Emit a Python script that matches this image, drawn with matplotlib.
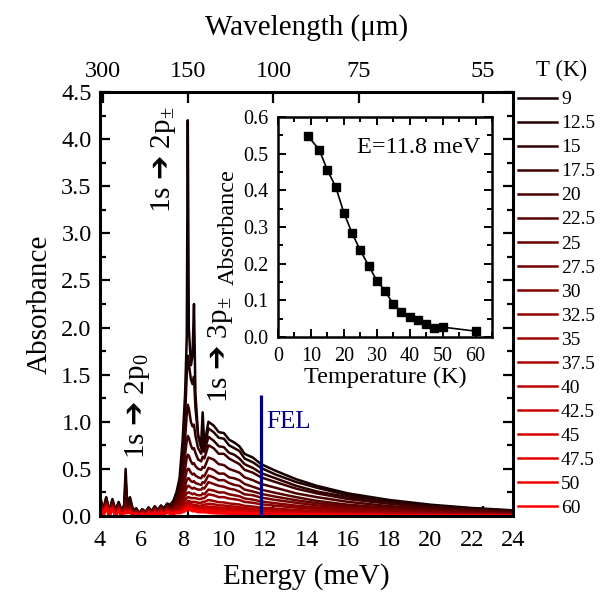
import numpy as np
import matplotlib
matplotlib.use("Agg")
import matplotlib.pyplot as plt
from matplotlib.ticker import MultipleLocator, FixedLocator

plt.rcParams['font.family'] = 'Liberation Serif'
plt.rcParams['mathtext.fontset'] = 'custom'
plt.rcParams['mathtext.rm'] = 'Liberation Serif'
plt.rcParams['mathtext.it'] = 'Liberation Serif:italic'
plt.rcParams['mathtext.bf'] = 'Liberation Serif:bold'
plt.rcParams['mathtext.sf'] = 'DejaVu Sans'

# temperatures (K) of the spectra
temps = ['9', '12.5', '15', '17.5', '20', '22.5', '25', '27.5', '30',
         '32.5', '35', '37.5', '40', '42.5', '45', '47.5', '50', '60']

# photon energy grid (meV)
energy = [4.0, 4.15, 4.3, 4.45, 4.6, 4.75, 4.9, 5.05, 5.17, 5.24, 5.31, 5.45, 5.6,
          5.75, 5.9, 6.05, 6.2, 6.35, 6.5, 6.65, 6.8, 6.95, 7.1, 7.25, 7.4,
          7.55, 7.7, 7.85, 8.0, 8.12, 8.2, 8.25, 8.3, 8.4, 8.48, 8.55, 8.62,
          8.75, 8.9, 8.97, 9.05, 9.25,
          9.5, 9.75, 10.0, 10.25, 10.5, 10.75, 11.0, 11.4, 11.8, 12.5, 13.5,
          14.5, 16, 18, 20, 22, 24]

# absorbance, one row per temperature
absorb = [
    [0.22, 0.06, 0.2, 0.05, 0.18, 0.06, 0.15, 0.05, 0.12, 0.5, 0.15, 0.2, 0.06, 0.08, 0.03, 0.07, 0.04, 0.09, 0.05, 0.1, 0.06, 0.11, 0.08, 0.13, 0.12,
     0.16, 0.25, 0.4, 0.8, 1.3, 1.9, 4.2, 2.0, 1.6, 1.7, 2.25, 1.3, 0.85, 0.78, 1.1, 0.75, 1.0,
     0.96, 0.89, 0.88, 0.81, 0.78, 0.74, 0.66, 0.62, 0.55, 0.48, 0.39, 0.32, 0.24, 0.17, 0.12, 0.085, 0.06],
    [0.2, 0.05, 0.19, 0.05, 0.17, 0.05, 0.14, 0.05, 0.11, 0.38, 0.13, 0.18, 0.05, 0.08, 0.03, 0.07, 0.04, 0.09, 0.05, 0.1, 0.06, 0.11, 0.08, 0.13, 0.12,
     0.15, 0.22, 0.35, 0.62, 1.05, 1.5, 1.7, 1.62, 1.45, 1.4, 1.48, 1.15, 0.85, 0.72, 0.85, 0.72, 0.93,
     0.89, 0.83, 0.82, 0.75, 0.72, 0.69, 0.61, 0.57, 0.51, 0.44, 0.36, 0.3, 0.22, 0.16, 0.11, 0.08, 0.056],
    [0.19, 0.05, 0.18, 0.04, 0.16, 0.05, 0.13, 0.05, 0.1, 0.28, 0.12, 0.16, 0.05, 0.07, 0.03, 0.07, 0.04, 0.08, 0.05, 0.1, 0.06, 0.1, 0.07, 0.12, 0.11,
     0.13, 0.2, 0.3, 0.5, 0.82, 1.08, 1.18, 1.14, 1.0, 0.95, 0.97, 0.85, 0.72, 0.66, 0.74, 0.68, 0.84,
     0.8, 0.74, 0.73, 0.67, 0.65, 0.61, 0.55, 0.51, 0.455, 0.4, 0.32, 0.26, 0.2, 0.14, 0.1, 0.07, 0.05],
    [0.18, 0.04, 0.17, 0.04, 0.15, 0.04, 0.12, 0.04, 0.1, 0.22, 0.11, 0.14, 0.04, 0.07, 0.02, 0.06, 0.03, 0.08, 0.04, 0.09, 0.05, 0.1, 0.07, 0.11, 0.1,
     0.12, 0.18, 0.27, 0.42, 0.65, 0.8, 0.85, 0.83, 0.75, 0.71, 0.72, 0.67, 0.6, 0.58, 0.63, 0.61, 0.75,
     0.72, 0.66, 0.66, 0.61, 0.58, 0.55, 0.49, 0.46, 0.41, 0.36, 0.29, 0.24, 0.18, 0.13, 0.09, 0.064, 0.045],
    [0.17, 0.04, 0.16, 0.04, 0.14, 0.04, 0.12, 0.04, 0.09, 0.17, 0.1, 0.12, 0.04, 0.06, 0.02, 0.06, 0.03, 0.08, 0.04, 0.09, 0.05, 0.09, 0.06, 0.1, 0.09,
     0.11, 0.16, 0.23, 0.35, 0.5, 0.62, 0.65, 0.64, 0.58, 0.55, 0.56, 0.53, 0.5, 0.49, 0.52, 0.51, 0.62,
     0.6, 0.55, 0.54, 0.5, 0.48, 0.46, 0.41, 0.38, 0.34, 0.3, 0.24, 0.2, 0.15, 0.105, 0.075, 0.053, 0.037],
    [0.16, 0.04, 0.15, 0.03, 0.13, 0.04, 0.11, 0.04, 0.09, 0.14, 0.09, 0.11, 0.04, 0.06, 0.02, 0.06, 0.03, 0.07, 0.04, 0.08, 0.05, 0.09, 0.06, 0.09, 0.08,
     0.1, 0.14, 0.2, 0.28, 0.4, 0.48, 0.5, 0.5, 0.46, 0.44, 0.45, 0.43, 0.41, 0.4, 0.43, 0.42, 0.51,
     0.49, 0.45, 0.45, 0.41, 0.4, 0.38, 0.34, 0.31, 0.28, 0.245, 0.2, 0.16, 0.12, 0.087, 0.062, 0.043, 0.031],
    [0.15, 0.03, 0.14, 0.03, 0.12, 0.03, 0.1, 0.03, 0.08, 0.12, 0.08, 0.1, 0.03, 0.05, 0.02, 0.05, 0.02, 0.07, 0.03, 0.08, 0.04, 0.08, 0.05, 0.09, 0.07,
     0.09, 0.12, 0.17, 0.23, 0.32, 0.38, 0.4, 0.4, 0.37, 0.36, 0.37, 0.35, 0.34, 0.33, 0.36, 0.35, 0.43,
     0.41, 0.38, 0.38, 0.35, 0.33, 0.32, 0.28, 0.26, 0.235, 0.205, 0.167, 0.136, 0.103, 0.073, 0.052, 0.036, 0.026],
    [0.14, 0.03, 0.13, 0.03, 0.12, 0.03, 0.1, 0.03, 0.08, 0.1, 0.08, 0.09, 0.03, 0.05, 0.02, 0.05, 0.02, 0.06, 0.03, 0.07, 0.04, 0.08, 0.05, 0.08, 0.07,
     0.08, 0.11, 0.14, 0.19, 0.26, 0.3, 0.32, 0.32, 0.3, 0.29, 0.3, 0.29, 0.28, 0.28, 0.3, 0.29, 0.36,
     0.34, 0.32, 0.31, 0.29, 0.28, 0.26, 0.23, 0.22, 0.195, 0.17, 0.14, 0.113, 0.086, 0.06, 0.043, 0.03, 0.021],
    [0.14, 0.03, 0.13, 0.02, 0.11, 0.03, 0.09, 0.03, 0.07, 0.09, 0.07, 0.08, 0.03, 0.05, 0.01, 0.05, 0.02, 0.06, 0.03, 0.07, 0.03, 0.07, 0.04, 0.08, 0.06,
     0.07, 0.09, 0.12, 0.16, 0.21, 0.24, 0.25, 0.25, 0.24, 0.23, 0.24, 0.23, 0.22, 0.22, 0.24, 0.23, 0.28,
     0.27, 0.25, 0.25, 0.23, 0.22, 0.21, 0.186, 0.174, 0.155, 0.135, 0.11, 0.09, 0.068, 0.048, 0.034, 0.024, 0.017],
    [0.13, 0.02, 0.12, 0.02, 0.11, 0.02, 0.09, 0.02, 0.07, 0.08, 0.07, 0.08, 0.02, 0.04, 0.01, 0.04, 0.02, 0.06, 0.02, 0.06, 0.03, 0.07, 0.04, 0.07, 0.06,
     0.07, 0.08, 0.1, 0.13, 0.17, 0.19, 0.2, 0.2, 0.19, 0.19, 0.19, 0.19, 0.18, 0.18, 0.19, 0.19, 0.23,
     0.22, 0.2, 0.2, 0.185, 0.178, 0.169, 0.15, 0.14, 0.125, 0.109, 0.089, 0.073, 0.055, 0.039, 0.028, 0.019, 0.014],
    [0.13, 0.02, 0.12, 0.02, 0.1, 0.02, 0.08, 0.02, 0.06, 0.07, 0.06, 0.07, 0.02, 0.04, 0.01, 0.04, 0.01, 0.05, 0.02, 0.06, 0.03, 0.06, 0.03, 0.07, 0.05,
     0.06, 0.07, 0.08, 0.1, 0.13, 0.15, 0.16, 0.16, 0.15, 0.15, 0.15, 0.15, 0.14, 0.14, 0.15, 0.15, 0.17,
     0.16, 0.146, 0.144, 0.133, 0.128, 0.122, 0.108, 0.1, 0.09, 0.078, 0.064, 0.052, 0.04, 0.028, 0.02, 0.014, 0.01],
    [0.12, 0.02, 0.11, 0.02, 0.1, 0.02, 0.08, 0.02, 0.06, 0.06, 0.06, 0.06, 0.02, 0.04, 0.01, 0.04, 0.01, 0.05, 0.02, 0.05, 0.02, 0.06, 0.03, 0.06, 0.05,
     0.05, 0.06, 0.07, 0.09, 0.11, 0.13, 0.14, 0.14, 0.13, 0.12, 0.12, 0.12, 0.11, 0.11, 0.12, 0.12, 0.13,
     0.125, 0.113, 0.112, 0.104, 0.1, 0.095, 0.084, 0.078, 0.07, 0.061, 0.05, 0.041, 0.031, 0.022, 0.015, 0.011, 0.008],
    [0.12, 0.01, 0.11, 0.01, 0.09, 0.01, 0.07, 0.01, 0.05, 0.06, 0.05, 0.06, 0.01, 0.03, 0.0, 0.03, 0.01, 0.05, 0.01, 0.05, 0.02, 0.05, 0.03, 0.06, 0.04,
     0.05, 0.05, 0.06, 0.08, 0.1, 0.11, 0.12, 0.12, 0.11, 0.1, 0.1, 0.1, 0.09, 0.09, 0.1, 0.1, 0.1,
     0.097, 0.089, 0.088, 0.081, 0.078, 0.074, 0.066, 0.062, 0.055, 0.048, 0.039, 0.032, 0.024, 0.017, 0.012, 0.009, 0.006],
    [0.11, 0.01, 0.1, 0.01, 0.09, 0.01, 0.07, 0.01, 0.05, 0.05, 0.05, 0.05, 0.01, 0.03, 0.0, 0.03, 0.0, 0.04, 0.01, 0.05, 0.02, 0.05, 0.02, 0.05, 0.04,
     0.04, 0.05, 0.05, 0.07, 0.09, 0.1, 0.11, 0.11, 0.1, 0.09, 0.09, 0.09, 0.08, 0.08, 0.08, 0.08, 0.08,
     0.08, 0.073, 0.072, 0.067, 0.064, 0.061, 0.054, 0.05, 0.045, 0.039, 0.032, 0.026, 0.02, 0.014, 0.01, 0.007, 0.005],
    [0.11, 0.01, 0.1, 0.01, 0.08, 0.01, 0.06, 0.01, 0.05, 0.05, 0.05, 0.05, 0.01, 0.03, 0.0, 0.03, 0.0, 0.04, 0.01, 0.04, 0.01, 0.05, 0.02, 0.05, 0.03,
     0.04, 0.04, 0.05, 0.06, 0.08, 0.09, 0.1, 0.1, 0.09, 0.08, 0.08, 0.08, 0.07, 0.07, 0.07, 0.07, 0.065,
     0.062, 0.057, 0.056, 0.052, 0.05, 0.047, 0.042, 0.039, 0.035, 0.03, 0.025, 0.02, 0.015, 0.011, 0.008, 0.005, 0.004],
    [0.1, 0.0, 0.09, 0.0, 0.08, 0.0, 0.06, 0.0, 0.04, 0.04, 0.04, 0.04, 0.0, 0.02, 0.0, 0.02, 0.0, 0.04, 0.0, 0.04, 0.01, 0.04, 0.02, 0.04, 0.03,
     0.03, 0.04, 0.04, 0.05, 0.07, 0.08, 0.09, 0.09, 0.08, 0.07, 0.07, 0.07, 0.06, 0.06, 0.06, 0.06, 0.05,
     0.045, 0.041, 0.04, 0.037, 0.035, 0.034, 0.03, 0.028, 0.025, 0.022, 0.018, 0.015, 0.011, 0.008, 0.006, 0.004, 0.003],
    [0.1, 0.01, 0.09, 0.01, 0.08, 0.0, 0.06, 0.01, 0.04, 0.04, 0.04, 0.05, 0.0, 0.03, 0.0, 0.03, 0.0, 0.04, 0.01, 0.04, 0.01, 0.04, 0.02, 0.05, 0.03,
     0.03, 0.04, 0.04, 0.05, 0.07, 0.08, 0.09, 0.09, 0.08, 0.07, 0.07, 0.07, 0.06, 0.06, 0.06, 0.06, 0.055,
     0.048, 0.044, 0.043, 0.04, 0.038, 0.036, 0.032, 0.03, 0.027, 0.024, 0.019, 0.016, 0.012, 0.008, 0.006, 0.004, 0.003],
    [0.09, 0.0, 0.08, 0.0, 0.07, 0.0, 0.05, 0.0, 0.03, 0.03, 0.03, 0.04, 0.0, 0.02, 0.0, 0.02, 0.0, 0.03, 0.0, 0.03, 0.0, 0.03, 0.01, 0.04, 0.02,
     0.02, 0.03, 0.03, 0.04, 0.05, 0.06, 0.07, 0.07, 0.06, 0.05, 0.05, 0.05, 0.04, 0.04, 0.04, 0.04, 0.035,
     0.03, 0.027, 0.026, 0.024, 0.023, 0.022, 0.019, 0.017, 0.015, 0.013, 0.011, 0.009, 0.007, 0.005, 0.003, 0.002, 0.002],
]

# inset: absorbance at the FEL energy vs temperature
inset_T = [9, 12.5, 15, 17.5, 20, 22.5, 25, 27.5, 30, 32.5, 35, 37.5, 40, 42.5, 45, 47.5, 50, 60]
inset_A = [0.549, 0.511, 0.455, 0.41, 0.339, 0.283, 0.236, 0.195, 0.154, 0.126, 0.089, 0.069,
           0.055, 0.046, 0.036, 0.025, 0.027, 0.016]

fel_energy = 11.8
fel_top = 1.28
wl_ticks = [300, 150, 100, 75, 55]
HC = 1239.84  # meV * um

ARROW = r'$\mathsf{' + '\u2794' + '}$'


def e_to_wl(e):
    with np.errstate(divide='ignore'):
        return HC / np.asarray(e, dtype=float)


fig = plt.figure(figsize=(6.04, 5.97), dpi=100)
ax = fig.add_axes([0.1656, 0.1357, 0.6838, 0.7102])

n = len(temps)
for i, (t, a) in enumerate(zip(temps, absorb)):
    ax.plot(energy, a, color=(0.08 + 0.92 * i / (n - 1), 0, 0), lw=1.8, label=t)

ax.vlines(fel_energy, 0, fel_top, color='#000080', lw=2.3, zorder=5)
ax.text(12.05, 1.0, 'FEL', color='#000080', fontsize=18, ha='left', va='center')

ax.text(7.05, 3.22, '1s ' + ARROW + r' 2p$_{\pm}$', rotation=90, fontsize=21,
        ha='center', va='bottom')
ax.text(5.8, 0.6, '1s ' + ARROW + r' 2p$_0$', rotation=90, fontsize=21,
        ha='center', va='bottom')
ax.text(9.83, 1.2, '1s ' + ARROW + r' 3p$_{\pm}$', rotation=90, fontsize=21,
        ha='center', va='bottom')

ax.set_xlim(4, 24)
ax.set_ylim(0, 4.5)
ax.set_xticks(np.arange(4, 25, 2))
ax.xaxis.set_minor_locator(FixedLocator([HC / w for w in wl_ticks]))
ax.yaxis.set_major_locator(MultipleLocator(0.5))
ax.yaxis.set_minor_locator(MultipleLocator(0.25))
ax.tick_params(axis='x', which='major', length=0, pad=10, labelsize=17.5)
ax.tick_params(axis='x', which='minor', direction='in', length=7, width=1.6, top=False)
ax.tick_params(axis='y', which='both', direction='in', left=True, right=True,
               labelsize=17.5, pad=6, width=1.6)
ax.tick_params(axis='y', which='major', length=7)
ax.tick_params(axis='y', which='minor', length=4)
for s in ax.spines.values():
    s.set_linewidth(2.2)
ax.set_xlabel('Energy (meV)', fontsize=21, labelpad=9)
ax.set_ylabel('Absorbance', fontsize=21, labelpad=6)

sec = ax.secondary_xaxis('top', functions=(e_to_wl, e_to_wl))
sec.set_xticks(wl_ticks)
sec.set_xticklabels([str(w) for w in wl_ticks])
sec.tick_params(direction='in', length=8, width=1.6, labelsize=17.5, pad=7)
sec.set_xlabel('Wavelength (μm)', fontsize=21, labelpad=19)

# inset
ins = fig.add_axes([0.4603, 0.4355, 0.3543, 0.3685])
ins.plot(inset_T, inset_A, '-s', color='k', ms=6, lw=1.2)
ins.set_xlim(0, 65)
ins.set_ylim(0, 0.6)
ins.xaxis.set_major_locator(MultipleLocator(10))
ins.xaxis.set_minor_locator(MultipleLocator(5))
ins.yaxis.set_major_locator(MultipleLocator(0.1))
ins.yaxis.set_minor_locator(MultipleLocator(0.05))
ins.yaxis.set_major_formatter(matplotlib.ticker.FormatStrFormatter('%.1f'))
ins.tick_params(which='both', direction='in', top=True, right=True, width=1.4,
                labelsize=14.5, pad=7)
ins.tick_params(which='major', length=6)
ins.tick_params(which='minor', length=3.5)
for s in ins.spines.values():
    s.set_linewidth(1.8)
ins.set_xlabel('Temperature (K)', fontsize=17.5, labelpad=1)
ins.set_ylabel('Absorbance', fontsize=17.5, labelpad=3)
ins.text(0.945, 0.86, 'E=11.8 meV', transform=ins.transAxes, fontsize=17.5,
         ha='right', va='center')

fig.legend(loc='upper left', bbox_to_anchor=(0.858, 0.848), frameon=False,
           borderpad=0, borderaxespad=0, handlelength=2.0, handletextpad=0.2,
           labelspacing=0.33, fontsize=14)
fig.text(0.93, 0.882, 'T (K)', fontsize=16.5, ha='center', va='center')

fig.savefig('out.png', dpi=100)
